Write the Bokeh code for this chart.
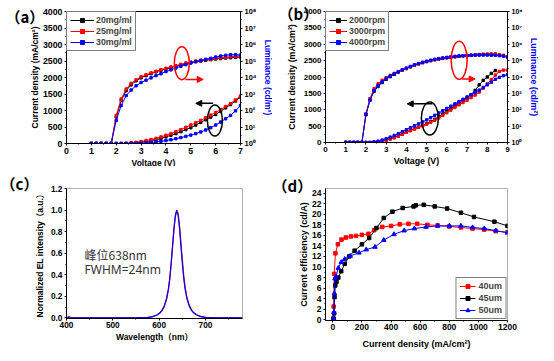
from bokeh.plotting import figure
from bokeh.layouts import gridplot
from bokeh.models import (Range1d, LogAxis, LogScale, FixedTicker, CustomJSTickFormatter,
                          PrintfTickFormatter, Label, Arrow, NormalHead, Legend, LegendItem)
from bokeh.core.properties import value
from bokeh.embed import file_html
from bokeh.resources import INLINE

FONT = "Liberation Sans"
CJK = "Noto Sans CJK SC"
BLACK = "#000000"
RED = "#ff0000"
BLUE = "#0000ff"

# ---------------- panel (a) data ----------------
V_a = [1.0, 1.2, 1.4, 1.6, 1.8, 2.0, 2.2, 2.4, 2.6, 2.8, 3.0, 3.2, 3.4, 3.6, 3.8, 4.0,
       4.2, 4.4, 4.6, 4.8, 5.0, 5.2, 5.4, 5.6, 5.8, 6.0, 6.2, 6.4, 6.6, 6.8, 7.0]
J_a_20 = [0, 0, 0, 0, 0, 0, 0, 5, 12, 22, 40, 60, 85, 115, 150, 200, 250, 300, 360, 420,
          480, 560, 640, 720, 800, 880, 980, 1080, 1180, 1290, 1410]
J_a_25 = [0, 0, 0, 0, 0, 0, 0, 8, 18, 35, 60, 90, 120, 155, 200, 250, 300, 355, 420, 490,
          560, 630, 700, 780, 860, 940, 1030, 1120, 1210, 1320, 1440]
J_a_30 = [0, 0, 0, 0, 0, 0, 0, 0, 3, 6, 12, 20, 30, 45, 65, 90, 115, 145, 180, 215,
          255, 300, 350, 410, 480, 560, 650, 750, 850, 990, 1150]
L_a_20 = [1, 1, 1, 1, 1, 40, 400, 1600, 3600, 6300, 9500, 13000, 17000, 22000, 27500, 33000,
          40000, 48000, 57500, 69000, 79000, 91000, 100000, 110000, 120000, 132000, 141000,
          151000, 158000, 166000, 174000]
L_a_25 = [1, 1, 1, 1, 1, 50, 500, 2000, 4400, 7200, 11000, 14500, 19000, 24000, 30000, 36000,
          44000, 52000, 63000, 76000, 87000, 100000, 110000, 120000, 132000, 145000, 158000,
          166000, 182000, 190000, 200000]
L_a_30 = [1, 1, 1, 1, 1, 25, 200, 800, 1740, 3160, 5000, 6900, 9500, 13000, 17000, 23000,
          29000, 38000, 48000, 60000, 76000, 91000, 110000, 126000, 145000, 174000, 200000,
          219000, 240000, 240000, 229000]
LEG_A = ["20mg/ml", "25mg/ml", "30mg/ml"]

# ---------------- panel (b) data ----------------
V_b = [1.0, 1.2, 1.4, 1.6, 1.8, 2.0, 2.2, 2.4, 2.6, 2.8, 3.0, 3.2, 3.4, 3.6, 3.8, 4.0,
       4.2, 4.4, 4.6, 4.8, 5.0, 5.2, 5.4, 5.6, 5.8, 6.0, 6.2, 6.4, 6.6, 6.8, 7.0, 7.2,
       7.4, 7.6, 7.8, 8.0, 8.2, 8.4, 8.6, 8.8, 9.0]
J_b_2000 = [0, 0, 0, 0, 0, 0, 0, 8, 20, 40, 70, 110, 150, 200, 260, 320, 370, 420, 470, 520,
            570, 640, 710, 790, 870, 960, 1040, 1120, 1200, 1280, 1360, 1460, 1590, 1760,
            1900, 2000, 2110, 2200]
J_b_3000 = [0, 0, 0, 0, 0, 0, 0, 8, 20, 40, 70, 105, 145, 195, 250, 310, 360, 410, 460, 510,
            560, 620, 680, 750, 830, 910, 990, 1070, 1150, 1220, 1290, 1370, 1450, 1540,
            1660, 1790, 1920, 2060, 2170, 2210, 2210]
J_b_4000 = [0, 0, 0, 0, 0, 0, 0, 15, 40, 75, 115, 165, 215, 270, 330, 390, 450, 510, 570, 630,
            690, 760, 830, 900, 970, 1040, 1110, 1180, 1250, 1320, 1390, 1460, 1530, 1600,
            1680, 1760, 1840, 1930, 1990, 2040, 2070]
L_b_2000 = [1, 1, 1, 1, 1, 50, 380, 1320, 2630, 4600, 7200, 10500, 14500, 20000, 26300, 33000,
            42000, 53000, 64000, 76000, 88000, 100000, 115000, 126000, 138000, 150000, 162000,
            174000, 186000, 195000, 204000, 214000, 224000, 234000, 240000, 245000, 250000,
            251000]
L_b_3000 = [1, 1, 1, 1, 1, 58, 480, 1900, 3800, 6300, 9100, 12600, 16600, 21000, 26300, 33000,
            42000, 52000, 63000, 75000, 87000, 100000, 112000, 124000, 136000, 148000, 160000,
            172000, 183000, 193000, 202000, 212000, 222000, 232000, 240000, 245000, 248000,
            245000, 235000, 212000, 182000]
L_b_4000 = [1, 1, 1, 1, 1, 52, 400, 1450, 2900, 5000, 7900, 11500, 15800, 21000, 27500, 34700,
            44000, 55000, 66000, 79000, 91000, 105000, 120000, 132000, 145000, 158000, 170000,
            182000, 190000, 200000, 204000, 209000, 214000, 219000, 219000, 219000, 214000,
            209000, 200000, 186000, 158000]
LEG_B = ["2000rpm", "3000rpm", "4000rpm"]

# ---------------- panel (c) data ----------------
WL_c = [400, 405, 410, 450, 500, 550, 558, 576, 586, 596, 601, 606, 611, 616, 620, 623, 626,
        629, 632, 635, 638, 641, 644, 647, 650, 653, 656, 660, 665, 670, 675, 680, 690, 700,
        718, 750, 780]
EL_red = [0, 0.015, 0, 0, 0, 0, 0.003, 0.005, 0.011, 0.028, 0.043, 0.067, 0.105, 0.17, 0.26,
          0.36, 0.5, 0.66, 0.82, 0.94, 0.995, 0.97, 0.86, 0.70, 0.55, 0.40, 0.29, 0.19, 0.12,
          0.075, 0.048, 0.032, 0.013, 0.005, 0, 0, 0]
EL_blue = [0, 0, 0, 0, 0, 0, 0.003, 0.005, 0.012, 0.03, 0.045, 0.07, 0.11, 0.18, 0.27, 0.37,
           0.51, 0.67, 0.83, 0.95, 1.0, 0.95, 0.83, 0.67, 0.51, 0.37, 0.27, 0.18, 0.11, 0.07,
           0.045, 0.03, 0.012, 0.005, 0, 0, 0]
NOTE_C = ["峰位638nm", "FWHM=24nm"]

# ---------------- panel (d) data ----------------
J_d_40 = [3, 6, 10, 18, 35, 60, 90, 125, 160, 200, 245, 285, 340, 400, 460, 520, 580, 650,
          720, 800, 880, 960, 1040, 1120, 1200]
CE_d_40 = [0.2, 2.5, 8.7, 12.6, 14.3, 15.2, 15.6, 15.8, 15.9, 16.1, 16.3, 17.0, 17.6, 17.8,
           18.1, 18.2, 18.2, 18.0, 17.9, 17.7, 17.5, 17.3, 17.1, 16.8, 16.6]
J_d_45 = [6, 9, 12, 17, 25, 38, 58, 82, 112, 150, 200, 250, 300, 350, 410, 480, 555, 570,
          625, 700, 785, 880, 970, 1110, 1200]
CE_d_45 = [0.2, 1.2, 4.3, 6.5, 7.2, 8.0, 9.2, 10.6, 12.0, 13.1, 14.3, 15.5, 17.4, 19.3, 20.5,
           21.2, 21.5, 21.7, 21.8, 21.5, 21.1, 20.3, 19.5, 18.6, 17.8]
J_d_50 = [6, 8, 11, 15, 22, 38, 58, 82, 120, 180, 230, 290, 350, 420, 490, 560, 640, 720,
          800, 880, 960, 1040, 1120, 1200]
CE_d_50 = [0.2, 1.4, 5.0, 7.8, 8.2, 9.8, 10.9, 11.5, 12.1, 12.7, 13.3, 13.8, 15.1, 16.2,
           16.9, 17.3, 17.6, 17.8, 17.8, 17.8, 17.5, 17.3, 16.9, 16.5]
LEG_D = ["40um", "45um", "50um"]

PANEL_TAGS = ["（a）", "（b）", "（c）", "（d）"]

DECADES = [1, 10, 100, 1e3, 1e4, 1e5, 1e6, 1e7, 1e8]
SUP_JS = """
const s = ["\u2070","\u00b9","\u00b2","\u00b3","\u2074","\u2075","\u2076","\u2077","\u2078","\u2079"];
const e = Math.round(Math.log10(tick));
return "10" + s[e];
"""


def style_axis(ax, tick_size="8.5px", label_size="8.5px", standoff=2, label_standoff=1,
               label_color="black", tick_out=2):
    ax.major_label_text_font = FONT
    ax.major_label_text_font_style = "bold"
    ax.major_label_text_font_size = tick_size
    ax.major_label_text_color = "black"
    ax.axis_label_text_font = FONT
    ax.axis_label_text_font_style = "bold"
    ax.axis_label_text_font_size = label_size
    ax.axis_label_text_color = label_color
    ax.axis_label_standoff = label_standoff
    ax.major_label_standoff = standoff
    ax.major_tick_in = 0
    ax.major_tick_out = tick_out
    ax.minor_tick_in = 0
    ax.minor_tick_out = 1
    ax.axis_line_color = "black"
    ax.major_tick_line_color = "black"
    ax.minor_tick_line_color = "black"


def make_fig(xr, yr, fw, fh, bl, br, bt, bb, outline="black"):
    p = figure(frame_width=fw, frame_height=fh, x_range=xr, y_range=yr,
               output_backend="svg", toolbar_location=None,
               min_border_left=bl, min_border_right=br, min_border_top=bt, min_border_bottom=bb)
    p.grid.visible = False
    p.outline_line_color = outline
    p.outline_line_width = 1
    p.outline_line_alpha = 1
    p.background_fill_color = "white"
    p.border_fill_color = "white"
    return p


def panel_tag(p, text, x, y, dx, dy):
    # text glyph anchored at the frame's top-left corner, shifted in pixels
    p.text(x=[x], y=[y], text=[text], x_offset=dx, y_offset=dy, text_font=value(CJK),
           text_font_size="15px", text_font_style="bold", text_baseline="middle",
           text_align="left", text_color="black", level="overlay")


def jv_panel(p, V_list, J_list, L_list, names, tick_size, lab_size, right_tick_size,
             left_std, right_std, leg_w):
    p.extra_y_ranges = {"lum": Range1d(1, 1e8)}
    p.extra_y_scales = {"lum": LogScale()}
    lax = LogAxis(y_range_name="lum", axis_label="Luminance (cd/m\u00b2)",
                  ticker=FixedTicker(ticks=DECADES,
                                     minor_ticks=[3.1623 * d for d in DECADES[:-1]]),
                  formatter=CustomJSTickFormatter(code=SUP_JS))
    p.add_layout(lax, "right")
    p.yaxis[0].axis_label = "Current density (mA/cm\u00b2)"
    p.xaxis.axis_label = "Voltage (V)"
    style_axis(p.xaxis[0], tick_size, lab_size, 2, 1)
    style_axis(p.yaxis[0], tick_size, lab_size, 2, left_std)
    style_axis(lax, right_tick_size, lab_size, 2, right_std, label_color=BLUE)
    colors = [BLACK, RED, BLUE]
    items = []
    for V, J, L, c, n in zip(V_list, J_list, L_list, colors, names):
        r1 = p.line(V, J, color=c, line_width=1)
        r2 = p.scatter(V, J, marker="square", size=2.4, color=c)
        p.line(V, L, color=c, line_width=1, y_range_name="lum")
        p.scatter(V, L, marker="square", size=2.4, color=c, y_range_name="lum")
        items.append(LegendItem(label=n, renderers=[r1, r2]))
    leg = Legend(items=items, location="top_left", margin=0, padding=3, spacing=1,
                 glyph_width=leg_w, glyph_height=10, label_height=10, label_standoff=2,
                 label_text_font=FONT, label_text_font_style="bold",
                 label_text_font_size="8.8px", border_line_color="black",
                 border_line_width=1, background_fill_alpha=1)
    p.add_layout(leg)
    return p


def ellipse_arrow(p, ex, ey, ew, eh, color, ax0, ax1, ay):
    p.ellipse(x=[ex], y=[ey], width=ew, height=eh, width_units="screen",
              height_units="screen", fill_color=None, line_color=color, line_width=1.5)
    p.add_layout(Arrow(end=NormalHead(size=6, fill_color=color, line_color=color),
                       x_start=ax0, y_start=ay, x_end=ax1, y_end=ay,
                       line_color=color, line_width=1.5))


# ---------------- (a) ----------------
pa = make_fig((0, 7), (0, 4000), 174, 132, 61, 37, 7, 25)
pa.xaxis.ticker = FixedTicker(ticks=[0, 1, 2, 3, 4, 5, 6, 7],
                              minor_ticks=[0.5, 1.5, 2.5, 3.5, 4.5, 5.5, 6.5])
pa.yaxis.ticker = FixedTicker(ticks=[0, 500, 1000, 1500, 2000, 2500, 3000, 3500, 4000],
                              minor_ticks=[250, 750, 1250, 1750, 2250, 2750, 3250, 3750])
jv_panel(pa, [V_a, V_a, V_a], [J_a_20, J_a_25, J_a_30], [L_a_20, L_a_25, L_a_30], LEG_A,
         "8.8px", "8.5px", "7.5px", 0, 3, 24)
ellipse_arrow(pa, 4.64, 2435, 15, 33, RED, 4.78, 5.5, 1942)
ellipse_arrow(pa, 5.97, 696, 15, 31, BLACK, 5.9, 5.2, 1217)
panel_tag(pa, PANEL_TAGS[0], 0, 4000, -61, 5)

# ---------------- (b) ----------------
pb = make_fig((0, 9), (0, 4000), 182, 131, 51, 33, 11, 22)
pb.xaxis.ticker = FixedTicker(ticks=list(range(10)),
                              minor_ticks=[0.5 + k for k in range(9)])
pb.yaxis.ticker = FixedTicker(ticks=[0, 500, 1000, 1500, 2000, 2500, 3000, 3500, 4000],
                              minor_ticks=[250, 750, 1250, 1750, 2250, 2750, 3250, 3750])
jv_panel(pb, [V_b[:38], V_b, V_b], [J_b_2000, J_b_3000, J_b_4000],
         [L_b_2000, L_b_3000, L_b_4000], LEG_B, "8px", "8.8px", "7px", 4, 3, 18)
ellipse_arrow(pb, 6.61, 2509, 16, 38, RED, 6.75, 7.4, 1939)
ellipse_arrow(pb, 5.16, 735, 17, 33, BLACK, 5.3, 4.04, 1180)
panel_tag(pb, PANEL_TAGS[1], 0, 4000, -47, 2)

# ---------------- (c) ----------------
pc = make_fig((400, 780), (-0.005, 1.2), 176, 130, 66, 30, 20, 31, outline="#b0b0b0")
pc.xaxis.ticker = FixedTicker(ticks=[400, 500, 600, 700], minor_ticks=[450, 550, 650, 750])
pc.yaxis.ticker = FixedTicker(ticks=[0, 0.2, 0.4, 0.6, 0.8, 1.0, 1.2],
                              minor_ticks=[0.1, 0.3, 0.5, 0.7, 0.9, 1.1])
pc.yaxis.formatter = PrintfTickFormatter(format="%.1f")
pc.xaxis.axis_label = "Wavelength\uff08nm\uff09"
pc.yaxis.axis_label = "Normalized EL intensity\uff08a.u.\uff09"
style_axis(pc.xaxis[0], "8.3px", "8.5px", 1, 1)
style_axis(pc.yaxis[0], "8.3px", "8.5px", 2, 3)
pc.xaxis.axis_label_text_font = FONT + ", " + CJK
pc.yaxis.axis_label_text_font = FONT + ", " + CJK
pc.line(WL_c, EL_red, color=RED, line_width=1.2)
pc.line(WL_c, EL_blue, color=BLUE, line_width=1.2)
pc.add_layout(Label(x=439, y=0.585, text=NOTE_C[0], text_font=CJK, text_font_size="12px",
                    text_color="#333333", text_baseline="middle"))
pc.add_layout(Label(x=439, y=0.445, text=NOTE_C[1], text_font="Noto Sans",
                    text_font_size="12px", text_color="#333333", text_baseline="middle"))
panel_tag(pc, PANEL_TAGS[2], 400, 1.2, -66, -5)

# ---------------- (d) ----------------
pd_ = make_fig((-50, 1200), (-0.15, 24.9), 182, 132, 53, 31, 16, 33, outline="#b0b0b0")
pd_.xaxis.ticker = FixedTicker(ticks=[0, 200, 400, 600, 800, 1000, 1200],
                               minor_ticks=[100, 300, 500, 700, 900, 1100])
pd_.yaxis.ticker = FixedTicker(ticks=list(range(0, 25, 2)),
                               minor_ticks=list(range(1, 25, 2)))
pd_.xaxis.axis_label = "Current density (mA/cm\u00b2)"
pd_.yaxis.axis_label = "Current efficiency (cd/A)"
style_axis(pd_.xaxis[0], "8.5px", "9px", 1, 6)
style_axis(pd_.yaxis[0], "8.5px", "9px", 2, 0)
items = []
for J, CE, c, m, s, n in zip([J_d_40, J_d_45, J_d_50], [CE_d_40, CE_d_45, CE_d_50],
                              [RED, BLACK, BLUE], ["square", "square", "triangle"],
                              [3.5, 3.5, 4.5], LEG_D):
    r1 = pd_.line(J, CE, color=c, line_width=1)
    r2 = pd_.scatter(J, CE, marker=m, size=s, color=c)
    items.append(LegendItem(label=n, renderers=[r1, r2]))
legd = Legend(items=items, location="bottom_right", margin=1, padding=3, spacing=2,
              glyph_width=16, glyph_height=10, label_height=10, label_standoff=3,
              label_text_font=FONT, label_text_font_style="bold", label_text_font_size="9px",
              border_line_color="black", border_line_width=1, background_fill_alpha=1)
pd_.add_layout(legd)
panel_tag(pd_, PANEL_TAGS[3], -50, 24.9, -53, -3)

grid = gridplot([[pa, pb], [pc, pd_]], toolbar_location=None)
open("out.html", "w").write(file_html(grid, INLINE))
